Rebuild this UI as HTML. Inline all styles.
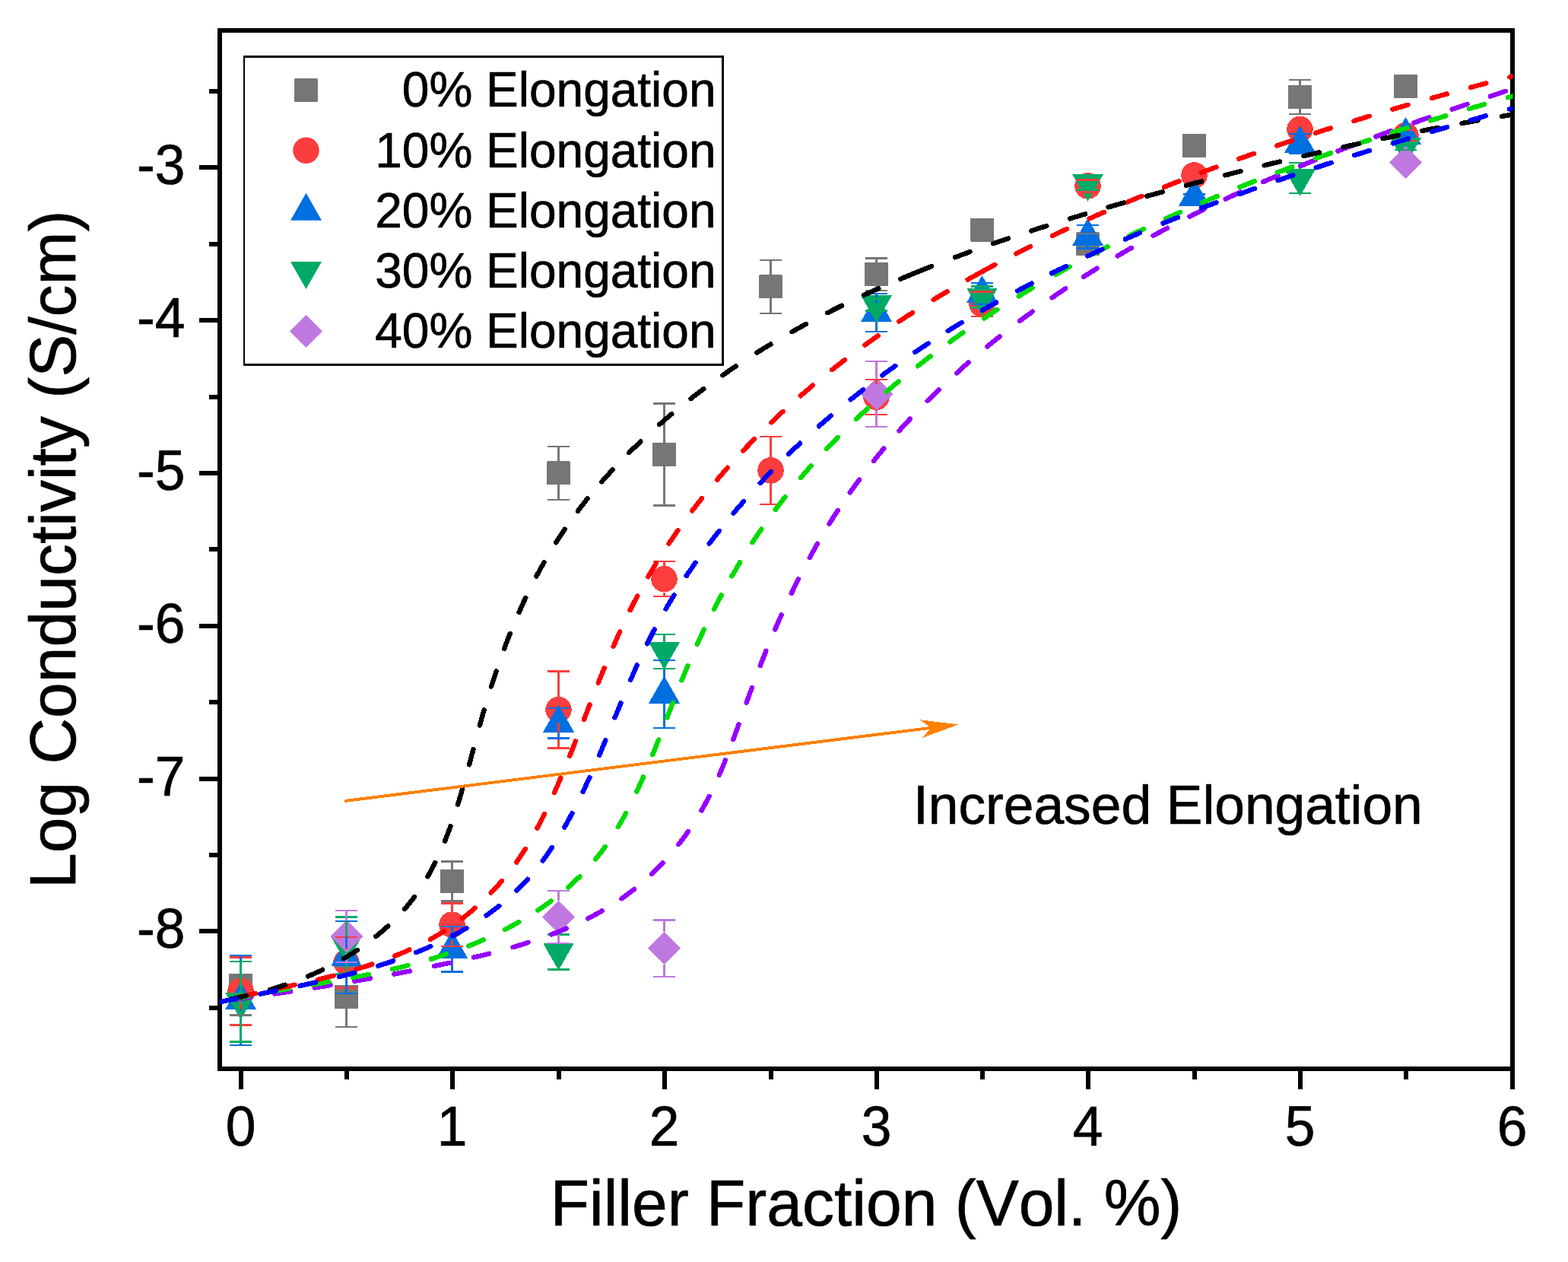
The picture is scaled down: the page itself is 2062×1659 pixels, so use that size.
<!DOCTYPE html>
<html lang="en"><head><meta charset="utf-8"><title>Log Conductivity vs Filler Fraction</title>
<style>html,body{margin:0;padding:0;background:#fff;overflow:hidden}svg{display:block}text{font-family:"Liberation Sans",sans-serif;fill:#000;font-kerning:none;stroke:#000;stroke-width:0.7px;stroke-linejoin:round}</style>
</head><body>
<svg width="2062" height="1659" viewBox="0 0 2062 1659">
<rect x="0" y="0" width="2062" height="1659" fill="#fff"/>
<g id="axes" stroke="#000" stroke-width="6" fill="none" shape-rendering="crispEdges">
<rect x="289.0" y="40.0" width="1700.0" height="1365.0"/>
<line x1="262" x2="289.0" y1="1224" y2="1224"/>
<line x1="262" x2="289.0" y1="1024" y2="1024"/>
<line x1="262" x2="289.0" y1="823" y2="823"/>
<line x1="262" x2="289.0" y1="622" y2="622"/>
<line x1="262" x2="289.0" y1="421" y2="421"/>
<line x1="262" x2="289.0" y1="220" y2="220"/>
<line x1="275" x2="289.0" y1="1325" y2="1325"/>
<line x1="275" x2="289.0" y1="1124" y2="1124"/>
<line x1="275" x2="289.0" y1="923" y2="923"/>
<line x1="275" x2="289.0" y1="722" y2="722"/>
<line x1="275" x2="289.0" y1="522" y2="522"/>
<line x1="275" x2="289.0" y1="321" y2="321"/>
<line x1="275" x2="289.0" y1="120" y2="120"/>
<line x1="317" x2="317" y1="1405.0" y2="1432"/>
<line x1="595" x2="595" y1="1405.0" y2="1432"/>
<line x1="874" x2="874" y1="1405.0" y2="1432"/>
<line x1="1153" x2="1153" y1="1405.0" y2="1432"/>
<line x1="1431" x2="1431" y1="1405.0" y2="1432"/>
<line x1="1710" x2="1710" y1="1405.0" y2="1432"/>
<line x1="1989" x2="1989" y1="1405.0" y2="1432"/>
<line x1="456" x2="456" y1="1405.0" y2="1419"/>
<line x1="735" x2="735" y1="1405.0" y2="1419"/>
<line x1="1014" x2="1014" y1="1405.0" y2="1419"/>
<line x1="1292" x2="1292" y1="1405.0" y2="1419"/>
<line x1="1571" x2="1571" y1="1405.0" y2="1419"/>
<line x1="1849" x2="1849" y1="1405.0" y2="1419"/>
</g>
<g id="ticklabels" font-size="71.3">
<text transform="translate(243.3,1246.3) scale(1.0,1.03)" font-size="71.3" text-anchor="end">-8</text>
<text transform="translate(243.3,1046.3) scale(1.0,1.03)" font-size="71.3" text-anchor="end">-7</text>
<text transform="translate(243.3,845.3) scale(1.0,1.03)" font-size="71.3" text-anchor="end">-6</text>
<text transform="translate(243.3,644.3) scale(1.0,1.03)" font-size="71.3" text-anchor="end">-5</text>
<text transform="translate(243.3,443.3) scale(1.0,1.03)" font-size="71.3" text-anchor="end">-4</text>
<text transform="translate(243.3,242.3) scale(1.0,1.03)" font-size="71.3" text-anchor="end">-3</text>
<text transform="translate(316.5,1506.2) scale(1.0,1.03)" font-size="71.3" text-anchor="middle">0</text>
<text transform="translate(594.5,1506.2) scale(1.0,1.03)" font-size="71.3" text-anchor="middle">1</text>
<text transform="translate(873.5,1506.2) scale(1.0,1.03)" font-size="71.3" text-anchor="middle">2</text>
<text transform="translate(1152.5,1506.2) scale(1.0,1.03)" font-size="71.3" text-anchor="middle">3</text>
<text transform="translate(1430.5,1506.2) scale(1.0,1.03)" font-size="71.3" text-anchor="middle">4</text>
<text transform="translate(1709.5,1506.2) scale(1.0,1.03)" font-size="71.3" text-anchor="middle">5</text>
<text transform="translate(1988.5,1506.2) scale(1.0,1.03)" font-size="71.3" text-anchor="middle">6</text>
</g>
<text transform="translate(1139.0,1611.0) scale(1.0,1.02)" font-size="84.0" text-anchor="middle">Filler Fraction (Vol. %)</text>
<text transform="translate(99.3,722.3) rotate(-90) scale(1,1.02)" font-size="84.0" text-anchor="middle">Log Conductivity (S/cm)</text>
<clipPath id="clip"><rect x="289" y="40" width="1700.5" height="1365"/></clipPath>
<g id="markers" shape-rendering="crispEdges">
<g class="gray">
<rect x="301.0" y="1280.0" width="31" height="31" rx="1.5" fill="#767676"/>
<rect x="440.0" y="1295.0" width="31" height="31" rx="1.5" fill="#767676"/>
<rect x="579.0" y="1143.1" width="31" height="31" rx="1.5" fill="#767676"/>
<rect x="719.0" y="606.3" width="31" height="31" rx="1.5" fill="#767676"/>
<rect x="858.0" y="582.0" width="31" height="31" rx="1.5" fill="#767676"/>
<rect x="998.0" y="361.3" width="31" height="31" rx="1.5" fill="#767676"/>
<rect x="1137.0" y="345.1" width="31" height="31" rx="1.5" fill="#767676"/>
<rect x="1276.0" y="286.8" width="31" height="31" rx="1.5" fill="#767676"/>
<rect x="1415.0" y="305.2" width="31" height="31" rx="1.5" fill="#767676"/>
<rect x="1555.0" y="176.0" width="31" height="31" rx="1.5" fill="#767676"/>
<rect x="1694.0" y="112.1" width="31" height="31" rx="1.5" fill="#767676"/>
<rect x="1833.0" y="97.9" width="31" height="31" rx="1.5" fill="#767676"/>
</g>
<g class="red">
<circle cx="316.5" cy="1302.8" r="17.25" fill="#FC3D3D"/>
<circle cx="455.5" cy="1265.0" r="17.25" fill="#FC3D3D"/>
<circle cx="594.5" cy="1215.6" r="17.25" fill="#FC3D3D"/>
<circle cx="734.5" cy="933.0" r="17.25" fill="#FC3D3D"/>
<circle cx="873.5" cy="761.2" r="17.25" fill="#FC3D3D"/>
<circle cx="1013.5" cy="618.4" r="17.25" fill="#FC3D3D"/>
<circle cx="1152.5" cy="522.0" r="17.25" fill="#FC3D3D"/>
<circle cx="1291.5" cy="399.7" r="17.25" fill="#FC3D3D"/>
<circle cx="1430.5" cy="244.4" r="17.25" fill="#FC3D3D"/>
<circle cx="1570.5" cy="230.4" r="17.25" fill="#FC3D3D"/>
<circle cx="1709.5" cy="169.9" r="17.25" fill="#FC3D3D"/>
<circle cx="1848.5" cy="178.0" r="17.25" fill="#FC3D3D"/>
</g>
<g class="blue">
<path d="M316.5 1291.0L337.0 1327.0L296.0 1327.0Z" fill="#006FE0"/>
<path d="M455.5 1234.4L476.0 1270.4L435.0 1270.4Z" fill="#006FE0"/>
<path d="M594.5 1223.6L615.0 1259.6L574.0 1259.6Z" fill="#006FE0"/>
<path d="M734.5 926.5L755.0 962.5L714.0 962.5Z" fill="#006FE0"/>
<path d="M873.5 888.5L894.0 924.5L853.0 924.5Z" fill="#006FE0"/>
<path d="M1152.5 387.0L1173.0 423.0L1132.0 423.0Z" fill="#006FE0"/>
<path d="M1291.5 362.0L1312.0 398.0L1271.0 398.0Z" fill="#006FE0"/>
<path d="M1430.5 287.0L1451.0 323.0L1410.0 323.0Z" fill="#006FE0"/>
<path d="M1570.5 234.8L1591.0 270.8L1550.0 270.8Z" fill="#006FE0"/>
<path d="M1709.5 164.8L1730.0 200.8L1689.0 200.8Z" fill="#006FE0"/>
<path d="M1848.5 153.9L1869.0 189.9L1828.0 189.9Z" fill="#006FE0"/>
</g>
<g class="green">
<path d="M316.5 1340.7L337.0 1304.7L296.0 1304.7Z" fill="#00AA66"/>
<path d="M455.5 1267.0L476.0 1231.0L435.0 1231.0Z" fill="#00AA66"/>
<path d="M734.5 1275.6L755.0 1239.6L714.0 1239.6Z" fill="#00AA66"/>
<path d="M873.5 880.2L894.0 844.2L853.0 844.2Z" fill="#00AA66"/>
<path d="M1152.5 424.3L1173.0 388.3L1132.0 388.3Z" fill="#00AA66"/>
<path d="M1291.5 414.5L1312.0 378.5L1271.0 378.5Z" fill="#00AA66"/>
<path d="M1430.5 265.0L1451.0 229.0L1410.0 229.0Z" fill="#00AA66"/>
<path d="M1709.5 258.2L1730.0 222.2L1689.0 222.2Z" fill="#00AA66"/>
<path d="M1848.5 217.0L1869.0 181.0L1828.0 181.0Z" fill="#00AA66"/>
</g>
<g class="purple">
<path d="M455.5 1209.5L477.0 1231.0L455.5 1252.5L434.0 1231.0Z" fill="#BF78E0"/>
<path d="M734.5 1183.9L756.0 1205.4L734.5 1226.9L713.0 1205.4Z" fill="#BF78E0"/>
<path d="M873.5 1225.0L895.0 1246.5L873.5 1268.0L852.0 1246.5Z" fill="#BF78E0"/>
<path d="M1152.5 496.5L1174.0 518.0L1152.5 539.5L1131.0 518.0Z" fill="#BF78E0"/>
<path d="M1848.5 192.0L1870.0 213.5L1848.5 235.0L1827.0 213.5Z" fill="#BF78E0"/>
</g>
</g>
<g id="errorbars" fill="none" stroke-width="2.4" shape-rendering="crispEdges">
<g stroke="#767676">
<path d="M302.0 1256.4H331.0M302.0 1334.6H331.0M316.5 1256.4V1280.0M316.5 1311.0V1334.6"/>
<path d="M441.0 1270.9H470.0M441.0 1350.1H470.0M455.5 1270.9V1295.0M455.5 1326.0V1350.1"/>
<path d="M580.0 1132.6H609.0M580.0 1184.6H609.0M594.5 1132.6V1143.1M594.5 1174.1V1184.6"/>
<path d="M720.0 586.8H749.0M720.0 656.8H749.0M734.5 586.8V606.3M734.5 637.3V656.8"/>
<path d="M859.0 530.5H888.0M859.0 664.5H888.0M873.5 530.5V582.0M873.5 613.0V664.5"/>
<path d="M999.0 341.8H1028.0M999.0 411.8H1028.0M1013.5 341.8V361.3M1013.5 392.3V411.8"/>
<path d="M1138.0 339.4H1167.0M1138.0 381.8H1167.0M1152.5 339.4V345.1M1152.5 376.1V381.8"/>
<path d="M1416.0 307.0H1445.0M1416.0 334.4H1445.0"/>
<path d="M1695.0 105.1H1724.0M1695.0 150.1H1724.0M1709.5 105.1V112.1M1709.5 143.1V150.1"/>
</g>
<g stroke="#FC3D3D">
<path d="M302.0 1258.3H331.0M302.0 1347.3H331.0M316.5 1258.3V1285.5M316.5 1320.0V1347.3"/>
<path d="M441.0 1231.7H470.0M441.0 1298.3H470.0M455.5 1231.7V1247.8M455.5 1282.2V1298.3"/>
<path d="M580.0 1187.4H609.0M580.0 1243.8H609.0M594.5 1187.4V1198.3M594.5 1232.8V1243.8"/>
<path d="M720.0 882.4H749.0M720.0 983.6H749.0M734.5 882.4V915.8M734.5 950.2V983.6"/>
<path d="M859.0 738.2H888.0M859.0 784.2H888.0M873.5 738.2V744.0M873.5 778.5V784.2"/>
<path d="M999.0 574.1H1028.0M999.0 662.7H1028.0M1013.5 574.1V601.1M1013.5 635.6V662.7"/>
<path d="M1138.0 499.0H1167.0M1138.0 545.0H1167.0M1152.5 499.0V504.8M1152.5 539.2V545.0"/>
<path d="M1277.0 383.5H1306.0M1277.0 415.9H1306.0"/>
<path d="M1416.0 236.4H1445.0M1416.0 252.4H1445.0"/>
<path d="M1834.0 171.0H1863.0M1834.0 185.0H1863.0"/>
</g>
<g stroke="#006FE0">
<path d="M302.0 1256.0H331.0M302.0 1374.0H331.0M316.5 1256.0V1303.0M316.5 1327.0V1374.0"/>
<path d="M441.0 1210.8H470.0M441.0 1306.0H470.0M455.5 1210.8V1246.4M455.5 1270.4V1306.0"/>
<path d="M580.0 1217.9H609.0M580.0 1277.3H609.0M594.5 1217.9V1235.6M594.5 1259.6V1277.3"/>
<path d="M720.0 930.7H749.0M720.0 970.3H749.0M734.5 930.7V938.5M734.5 962.5V970.3"/>
<path d="M859.0 868.0H888.0M859.0 957.0H888.0M873.5 868.0V900.5M873.5 924.5V957.0"/>
<path d="M1138.0 385.8H1167.0M1138.0 436.2H1167.0M1152.5 385.8V399.0M1152.5 423.0V436.2"/>
<path d="M1277.0 372.0H1306.0M1277.0 400.0H1306.0M1291.5 372.0V374.0M1291.5 398.0V400.0"/>
<path d="M1416.0 295.7H1445.0M1416.0 326.3H1445.0M1430.5 295.7V299.0M1430.5 323.0V326.3"/>
<path d="M1556.0 255.3H1585.0M1556.0 262.3H1585.0"/>
<path d="M1695.0 176.2H1724.0M1695.0 201.4H1724.0M1709.5 176.2V176.8M1709.5 200.8V201.4"/>
</g>
<g stroke="#00AA66">
<path d="M302.0 1263.9H331.0M302.0 1369.5H331.0M316.5 1263.9V1304.7M316.5 1328.7V1369.5"/>
<path d="M441.0 1205.6H470.0M441.0 1280.4H470.0M455.5 1205.6V1231.0M455.5 1255.0V1280.4"/>
<path d="M720.0 1228.6H749.0M720.0 1274.6H749.0M734.5 1228.6V1239.6M734.5 1263.6V1274.6"/>
<path d="M859.0 833.7H888.0M859.0 878.7H888.0M873.5 833.7V844.2M873.5 868.2V878.7"/>
<path d="M1138.0 392.3H1167.0M1138.0 408.3H1167.0"/>
<path d="M1277.0 376.5H1306.0M1277.0 404.5H1306.0M1291.5 376.5V378.5M1291.5 402.5V404.5"/>
<path d="M1416.0 232.6H1445.0M1416.0 249.4H1445.0"/>
<path d="M1695.0 214.2H1724.0M1695.0 254.2H1724.0M1709.5 214.2V222.2M1709.5 246.2V254.2"/>
<path d="M1834.0 189.0H1863.0M1834.0 197.0H1863.0"/>
</g>
<g stroke="#BF78E0">
<path d="M441.0 1196.8H470.0M441.0 1265.2H470.0M455.5 1196.8V1209.5M455.5 1252.5V1265.2"/>
<path d="M720.0 1170.8H749.0M720.0 1240.0H749.0M734.5 1170.8V1183.9M734.5 1226.9V1240.0"/>
<path d="M859.0 1209.3H888.0M859.0 1283.7H888.0M873.5 1209.3V1225.0M873.5 1268.0V1283.7"/>
<path d="M1138.0 475.2H1167.0M1138.0 560.8H1167.0M1152.5 475.2V496.5M1152.5 539.5V560.8"/>
</g>
</g>
<g id="curves" fill="none" stroke-width="6.4" stroke-linecap="round" stroke-linejoin="round" clip-path="url(#clip)" shape-rendering="crispEdges">
<path stroke="#9600FF" d="M308.8 1313.9L312.3 1313.4L315.7 1312.9L319.2 1312.4L322.7 1312.0L326.1 1311.5L329.6 1311.0M361.4 1306.4L364.8 1305.9L368.3 1305.4L371.8 1304.9L375.2 1304.4L378.7 1303.8L382.2 1303.3M413.7 1298.5L417.1 1297.9L420.6 1297.4L424.0 1296.8L427.5 1296.3L430.9 1295.7L434.4 1295.1M466.2 1289.8L469.6 1289.2L473.1 1288.6L476.5 1288.0L480.0 1287.4L483.4 1286.8L486.9 1286.2M518.4 1280.5L521.8 1279.8L525.3 1279.2L528.7 1278.5L532.1 1277.8L535.6 1277.2L539.0 1276.5M570.8 1270.1L574.2 1269.4L577.6 1268.7L581.0 1268.0L584.5 1267.2L587.9 1266.5L591.3 1265.8M622.9 1258.6L626.3 1257.8L629.7 1257.0L633.1 1256.2L636.5 1255.4L639.9 1254.5L643.3 1253.7M674.5 1245.2L677.9 1244.2L681.2 1243.2L684.6 1242.2L687.9 1241.1L691.3 1240.1L694.6 1239.0M725.2 1228.4L728.4 1227.2L731.7 1225.9L735.0 1224.6L738.2 1223.3L741.4 1222.0L744.7 1220.6M773.1 1207.5L776.2 1205.9L779.3 1204.3L782.4 1202.6L785.4 1201.0L788.5 1199.3L791.5 1197.5M817.3 1181.3L820.2 1179.3L823.0 1177.3L825.8 1175.2L828.6 1173.1L831.4 1171.0L834.2 1168.8M856.9 1149.1L859.4 1146.7L861.9 1144.3L864.4 1141.8L866.8 1139.3L869.3 1136.8L871.7 1134.2M892.4 1110.0L894.6 1107.2L896.7 1104.4L898.8 1101.6L900.9 1098.8L902.9 1095.9L904.9 1093.1M922.5 1065.4L924.3 1062.3L926.0 1059.3L927.7 1056.2L929.3 1053.1L930.9 1050.0L932.6 1046.9M945.8 1018.7L947.2 1015.5L948.6 1012.3L949.9 1009.1L951.3 1005.8L952.6 1002.6L953.9 999.3M964.3 972.1L965.5 968.8L966.7 965.5L967.9 962.2L969.1 958.9L970.3 955.6L971.5 952.4M981.7 923.6L982.9 920.3L984.1 917.0L985.3 913.7L986.5 910.4L987.7 907.1L988.9 903.8M999.7 875.2L1001.0 872.0L1002.2 868.7L1003.5 865.5L1004.8 862.2L1006.1 859.0L1007.4 855.7M1019.2 827.5L1020.6 824.3L1022.0 821.1L1023.4 817.9L1024.8 814.7L1026.2 811.5L1027.6 808.3M1040.7 780.2L1042.2 777.1L1043.7 773.9L1045.3 770.8L1046.8 767.6L1048.4 764.5L1049.9 761.4M1064.7 733.2L1066.4 730.1L1068.1 727.0L1069.8 724.0L1071.5 720.9L1073.2 717.9L1074.9 714.8M1090.5 688.8L1092.3 685.8L1094.2 682.8L1096.0 679.9L1097.9 676.9L1099.8 674.0L1101.7 671.1M1117.8 647.5L1119.8 644.6L1121.8 641.8L1123.9 639.0L1125.9 636.1L1128.0 633.3L1130.1 630.5M1149.0 605.9L1151.2 603.2L1153.4 600.4L1155.6 597.7L1157.8 595.0L1160.1 592.3L1162.3 589.6M1182.6 566.2L1184.9 563.6L1187.3 561.0L1189.6 558.4L1192.0 555.8L1194.4 553.2L1196.8 550.7M1219.7 526.9L1222.2 524.4L1224.7 522.0L1227.2 519.5L1229.7 517.1L1232.2 514.6L1234.7 512.2M1258.0 490.5L1260.6 488.1L1263.2 485.8L1265.8 483.4L1268.4 481.1L1271.0 478.8L1273.7 476.5M1298.3 455.7L1301.0 453.4L1303.7 451.2L1306.4 449.0L1309.1 446.8L1311.9 444.6L1314.6 442.5M1341.0 422.0L1343.8 419.9L1346.6 417.8L1349.4 415.8L1352.3 413.7L1355.1 411.6L1357.9 409.6M1383.7 391.3L1386.6 389.3L1389.5 387.3L1392.4 385.4L1395.3 383.4L1398.2 381.5L1401.1 379.5M1424.9 364.0L1427.8 362.1L1430.8 360.2L1433.7 358.3L1436.7 356.5L1439.7 354.6L1442.6 352.8M1469.7 336.4L1472.7 334.6L1475.7 332.9L1478.8 331.1L1481.8 329.3L1484.8 327.6L1487.9 325.8M1516.6 309.8L1519.7 308.1L1522.8 306.4L1525.9 304.8L1529.0 303.1L1532.0 301.5L1535.1 299.8M1564.4 284.7L1567.5 283.1L1570.6 281.5L1573.8 280.0L1576.9 278.4L1580.0 276.9L1583.2 275.3M1611.8 261.6L1615.0 260.1L1618.1 258.6L1621.3 257.1L1624.5 255.6L1627.7 254.2L1630.8 252.7M1661.1 239.1L1664.3 237.7L1667.5 236.3L1670.7 234.9L1673.9 233.6L1677.2 232.2L1680.4 230.8M1710.3 218.2L1713.5 216.9L1716.7 215.6L1720.0 214.2L1723.2 212.9L1726.5 211.6L1729.7 210.3M1759.5 198.5L1762.7 197.2L1766.0 196.0L1769.3 194.7L1772.5 193.4L1775.8 192.2L1779.1 190.9M1809.5 179.5L1812.7 178.3L1816.0 177.0L1819.3 175.8L1822.6 174.6L1825.9 173.4L1829.2 172.2M1859.6 161.3L1862.9 160.1L1866.2 158.9L1869.5 157.7L1872.8 156.6L1876.1 155.4L1879.4 154.3M1909.6 143.7L1912.9 142.6L1916.2 141.5L1919.5 140.3L1922.8 139.2L1926.1 138.1L1929.4 136.9M1959.8 126.6L1963.2 125.5L1966.5 124.4L1969.8 123.3L1973.1 122.1L1976.4 121.0L1979.8 119.9"/>
<path stroke="#00DC00" d="M307.5 1313.4L310.9 1312.7L314.3 1312.0L317.7 1311.3L321.2 1310.6L324.6 1309.9L328.0 1309.2M359.6 1303.3L363.0 1302.7L366.5 1302.1L369.9 1301.5L373.4 1300.9L376.8 1300.3L380.3 1299.7M411.9 1294.3L415.4 1293.7L418.8 1293.1L422.3 1292.5L425.7 1291.9L429.2 1291.3L432.6 1290.7M464.2 1285.0L467.6 1284.3L471.1 1283.7L474.5 1283.0L477.9 1282.3L481.4 1281.6L484.8 1280.9M516.0 1274.1L519.4 1273.3L522.8 1272.5L526.2 1271.7L529.6 1270.9L533.0 1270.0L536.4 1269.2M566.8 1260.7L570.1 1259.7L573.5 1258.7L576.8 1257.6L580.1 1256.5L583.5 1255.4L586.8 1254.3M616.2 1243.6L619.5 1242.3L622.7 1241.0L626.0 1239.6L629.2 1238.3L632.4 1236.9L635.6 1235.5M663.9 1222.1L667.0 1220.5L670.1 1218.8L673.2 1217.2L676.3 1215.5L679.3 1213.8L682.4 1212.1M707.5 1196.6L710.5 1194.6L713.3 1192.6L716.2 1190.6L719.1 1188.6L721.9 1186.6L724.7 1184.5M747.1 1166.5L749.7 1164.1L752.3 1161.8L754.9 1159.4L757.4 1157.0L759.9 1154.6L762.4 1152.2M783.1 1129.5L785.3 1126.8L787.5 1124.1L789.7 1121.3L791.8 1118.5L793.9 1115.7L795.9 1112.9M812.8 1087.2L814.5 1084.2L816.3 1081.2L818.0 1078.1L819.8 1075.1L821.4 1072.0L823.1 1068.9M837.4 1040.5L838.8 1037.3L840.3 1034.1L841.8 1030.9L843.2 1027.7L844.6 1024.5L846.0 1021.3M858.3 992.0L859.6 988.7L860.9 985.5L862.2 982.2L863.5 979.0L864.7 975.7L866.0 972.5M877.3 943.3L878.6 940.1L879.8 936.8L881.1 933.5L882.4 930.3L883.6 927.0L884.9 923.7M896.5 894.4L897.8 891.1L899.2 887.9L900.5 884.7L901.8 881.4L903.2 878.2L904.6 875.0M916.9 846.7L918.4 843.5L919.9 840.3L921.3 837.1L922.8 834.0L924.3 830.8L925.8 827.6M938.9 801.0L940.5 797.9L942.1 794.8L943.7 791.7L945.3 788.6L947.0 785.5L948.6 782.4M962.4 757.4L964.2 754.4L965.9 751.4L967.7 748.4L969.5 745.3L971.3 742.3L973.1 739.3M989.5 713.1L991.5 710.2L993.4 707.3L995.3 704.4L997.3 701.5L999.3 698.6L1001.3 695.7M1019.7 670.0L1021.8 667.2L1023.9 664.4L1026.0 661.6L1028.2 658.8L1030.3 656.1L1032.5 653.3M1053.0 628.1L1055.3 625.4L1057.5 622.8L1059.8 620.1L1062.1 617.5L1064.4 614.9L1066.7 612.2M1087.1 590.0L1089.5 587.5L1091.9 584.9L1094.3 582.4L1096.7 579.9L1099.2 577.4L1101.6 574.9M1125.9 551.0L1128.4 548.6L1131.0 546.2L1133.5 543.8L1136.1 541.5L1138.7 539.1L1141.3 536.7M1165.8 514.9L1168.5 512.6L1171.2 510.4L1173.8 508.1L1176.5 505.8L1179.2 503.6L1181.9 501.4M1206.9 481.2L1209.7 479.0L1212.4 476.9L1215.2 474.7L1218.0 472.6L1220.7 470.5L1223.5 468.3M1249.2 449.4L1252.1 447.3L1254.9 445.3L1257.8 443.3L1260.6 441.2L1263.5 439.2L1266.4 437.2M1294.0 418.5L1296.9 416.6L1299.8 414.7L1302.7 412.7L1305.7 410.8L1308.6 408.9L1311.5 407.0M1339.8 389.4L1342.8 387.6L1345.7 385.7L1348.7 383.9L1351.7 382.1L1354.7 380.3L1357.8 378.6M1388.3 360.9L1391.3 359.2L1394.4 357.5L1397.4 355.8L1400.5 354.1L1403.5 352.4L1406.6 350.7M1438.0 333.9L1441.1 332.3L1444.2 330.7L1447.3 329.0L1450.4 327.4L1453.5 325.8L1456.6 324.3M1485.1 310.1L1488.3 308.5L1491.4 307.0L1494.6 305.5L1497.7 304.0L1500.9 302.5L1504.1 301.0M1532.9 287.5L1536.1 286.1L1539.3 284.6L1542.5 283.2L1545.7 281.8L1548.9 280.3L1552.1 278.9M1581.3 266.2L1584.5 264.8L1587.7 263.5L1590.9 262.1L1594.2 260.8L1597.4 259.4L1600.6 258.1M1630.3 245.9L1633.5 244.7L1636.8 243.4L1640.0 242.1L1643.3 240.8L1646.5 239.5L1649.8 238.2M1679.7 226.7L1683.0 225.5L1686.3 224.3L1689.5 223.1L1692.8 221.8L1696.1 220.6L1699.4 219.4M1730.2 208.2L1733.5 207.1L1736.8 205.9L1740.1 204.7L1743.4 203.6L1746.7 202.4L1750.1 201.3M1780.8 190.7L1784.1 189.6L1787.4 188.5L1790.7 187.4L1794.0 186.3L1797.4 185.2L1800.7 184.1M1830.7 174.3L1834.0 173.2L1837.4 172.2L1840.7 171.1L1844.0 170.0L1847.4 169.0L1850.7 167.9M1881.1 158.4L1884.5 157.4L1887.8 156.4L1891.2 155.4L1894.5 154.3L1897.8 153.3L1901.2 152.3M1931.9 143.1L1935.2 142.1L1938.6 141.1L1941.9 140.1L1945.3 139.1L1948.6 138.2L1952.0 137.2M1982.8 128.2L1985.9 127.4L1988.9 126.5"/>
<path stroke="#FF0000" d="M315.4 1310.5L318.8 1309.8L322.2 1309.0L325.6 1308.2L329.0 1307.5L332.5 1306.7L335.9 1306.0M367.3 1299.2L370.7 1298.4L374.1 1297.7L377.5 1296.9L380.9 1296.2L384.4 1295.4L387.8 1294.7M418.1 1287.7L421.5 1286.9L424.9 1286.0L428.3 1285.2L431.7 1284.3L435.1 1283.5L438.5 1282.6M469.2 1274.0L472.6 1273.0L475.9 1271.9L479.3 1270.9L482.6 1269.8L485.9 1268.7L489.3 1267.6M519.1 1256.7L522.3 1255.4L525.6 1254.1L528.8 1252.7L532.0 1251.4L535.2 1250.0L538.4 1248.5M565.9 1234.8L569.0 1233.1L572.0 1231.3L575.0 1229.6L578.0 1227.8L581.0 1225.9L584.0 1224.1M608.3 1207.1L611.1 1204.9L613.9 1202.7L616.6 1200.5L619.3 1198.3L622.0 1196.1L624.6 1193.8M645.7 1173.7L648.2 1171.2L650.5 1168.6L652.9 1166.1L655.3 1163.5L657.6 1160.8L659.9 1158.2M679.1 1133.5L681.1 1130.6L683.1 1127.7L685.1 1124.8L687.0 1121.9L688.9 1118.9L690.8 1116.0M706.4 1088.8L708.0 1085.7L709.7 1082.6L711.3 1079.5L712.8 1076.4L714.4 1073.2L715.9 1070.1M729.0 1042.0L730.4 1038.8L731.8 1035.6L733.2 1032.4L734.5 1029.2L735.9 1025.9L737.3 1022.7M749.2 993.8L750.5 990.5L751.8 987.3L753.1 984.0L754.4 980.7L755.7 977.5L756.9 974.2M768.0 945.9L769.2 942.6L770.5 939.3L771.8 936.1L773.0 932.8L774.3 929.6L775.6 926.3M786.8 897.6L788.1 894.4L789.4 891.1L790.7 887.9L792.0 884.6L793.4 881.4L794.7 878.1M806.6 849.8L808.0 846.6L809.4 843.4L810.8 840.2L812.2 837.0L813.7 833.8L815.1 830.6M828.6 802.2L830.2 799.1L831.8 795.9L833.4 792.8L835.0 789.7L836.6 786.6L838.3 783.5M852.3 758.2L854.1 755.2L855.9 752.2L857.7 749.2L859.5 746.2L861.3 743.2L863.1 740.2M879.6 714.5L881.6 711.6L883.6 708.7L885.5 705.8L887.5 702.9L889.5 700.0L891.5 697.1M910.3 671.4L912.4 668.7L914.5 665.9L916.7 663.1L918.8 660.4L921.0 657.6L923.2 654.9M943.0 630.7L945.3 628.0L947.6 625.4L949.9 622.7L952.2 620.1L954.5 617.5L956.8 614.8M977.4 592.4L979.8 589.8L982.2 587.3L984.7 584.8L987.1 582.3L989.5 579.8L992.0 577.3M1014.3 555.3L1016.8 552.9L1019.4 550.5L1021.9 548.1L1024.5 545.7L1027.0 543.3L1029.6 541.0M1052.8 520.3L1055.5 518.0L1058.1 515.7L1060.8 513.4L1063.5 511.2L1066.1 508.9L1068.8 506.6M1094.3 486.0L1097.1 483.8L1099.8 481.6L1102.6 479.5L1105.3 477.4L1108.1 475.2L1110.9 473.1M1137.4 453.5L1140.3 451.5L1143.1 449.4L1146.0 447.4L1148.8 445.4L1151.7 443.4L1154.6 441.4M1182.4 422.5L1185.3 420.6L1188.3 418.7L1191.2 416.8L1194.1 414.9L1197.1 413.0L1200.0 411.1M1227.5 394.0L1230.5 392.2L1233.5 390.4L1236.5 388.6L1239.5 386.8L1242.5 385.0L1245.5 383.2M1336.1 333.5L1339.2 331.9L1342.3 330.4L1345.5 328.8L1348.6 327.2L1351.7 325.6L1354.8 324.1M1383.8 310.0L1386.9 308.5L1390.1 307.0L1393.3 305.5L1396.4 304.0L1399.6 302.5L1402.8 301.0M1432.6 287.4L1435.8 286.0L1439.0 284.6L1442.2 283.1L1445.4 281.7L1448.6 280.3L1451.8 278.9M1482.1 265.9L1485.3 264.5L1488.6 263.2L1491.8 261.8L1495.0 260.5L1498.3 259.1L1501.5 257.8M1531.0 245.9L1534.2 244.6L1537.5 243.3L1540.7 242.0L1544.0 240.7L1547.2 239.4L1550.5 238.2M1579.7 227.0L1583.0 225.7L1586.3 224.5L1589.6 223.3L1592.8 222.1L1596.1 220.9L1599.4 219.7M1629.4 208.8L1632.7 207.6L1636.0 206.5L1639.3 205.3L1642.6 204.1L1645.9 203.0L1649.2 201.8M1679.3 191.5L1682.6 190.3L1686.0 189.2L1689.3 188.1L1692.6 187.0L1695.9 185.9L1699.2 184.8M1729.8 174.8L1733.1 173.8L1736.5 172.7L1739.8 171.6L1743.1 170.6L1746.5 169.5L1749.8 168.5M1780.6 158.9L1783.9 157.9L1787.3 156.9L1790.6 155.9L1794.0 154.8L1797.3 153.8L1800.7 152.8M1831.4 143.7L1834.8 142.7L1838.2 141.7L1841.5 140.8L1844.9 139.8L1848.2 138.8L1851.6 137.8M1882.8 129.0L1886.2 128.0L1889.5 127.1L1892.9 126.2L1896.3 125.2L1899.7 124.3L1903.0 123.4M1934.0 114.9L1937.4 114.0L1940.8 113.1L1944.2 112.2L1947.5 111.3L1950.9 110.4L1954.3 109.5M1985.3 101.3L1988.9 100.3M1272.6 367.6L1275.8 365.8L1279.0 364.0L1282.3 362.2L1285.5 360.4L1288.7 358.6L1292.0 356.8L1295.2 355.1L1298.5 353.3L1301.8 351.5L1305.0 349.8L1308.3 348.0"/>
<path stroke="#000000" d="M303.5 1313.5L306.9 1312.8L310.3 1312.1L313.7 1311.4L317.2 1310.6L320.6 1309.9L324.0 1309.1M355.0 1301.0L358.4 1300.0L361.7 1299.0L365.1 1297.9L368.4 1296.9L371.7 1295.8L375.1 1294.7M405.1 1283.4L408.3 1282.0L411.5 1280.7L414.7 1279.2L417.9 1277.8L421.1 1276.3L424.2 1274.8M452.1 1260.1L455.1 1258.3L458.1 1256.5L461.1 1254.6L464.0 1252.8L467.0 1250.9L469.9 1249.0M494.4 1231.0L497.1 1228.8L499.8 1226.6L502.5 1224.3L505.1 1222.0L507.7 1219.7L510.3 1217.4M531.9 1195.2L534.2 1192.5L536.4 1189.9L538.7 1187.1L540.8 1184.4L543.0 1181.6L545.1 1178.8M562.4 1152.3L564.1 1149.3L565.8 1146.2L567.5 1143.2L569.1 1140.1L570.7 1137.0L572.3 1133.8M585.0 1105.7L586.3 1102.5L587.5 1099.2L588.8 1095.9L590.1 1092.7L591.3 1089.4L592.5 1086.1M602.1 1057.5L603.1 1054.1L604.1 1050.8L605.1 1047.4L606.1 1044.1L607.1 1040.7L608.1 1037.4M617.0 1005.3L617.9 1002.0L618.8 998.6L619.7 995.2L620.6 991.8L621.5 988.4L622.4 985.0M631.0 953.4L631.9 950.0L632.8 946.6L633.8 943.3L634.7 939.9L635.7 936.5L636.7 933.2M646.0 902.4L647.1 899.0L648.2 895.7L649.3 892.4L650.4 889.0L651.5 885.7L652.6 882.4M663.2 852.6L664.4 849.3L665.6 846.1L666.9 842.8L668.1 839.5L669.4 836.3L670.7 833.0M682.5 805.0L683.9 801.8L685.3 798.6L686.8 795.4L688.2 792.2L689.7 789.0L691.2 785.9M705.4 757.5L707.1 754.4L708.7 751.4L710.4 748.3L712.1 745.2L713.8 742.2L715.5 739.1M731.1 713.2L733.0 710.3L734.9 707.3L736.8 704.4L738.8 701.5L740.7 698.6L742.7 695.7M759.9 671.8L762.0 669.0L764.1 666.3L766.3 663.5L768.5 660.8L770.6 658.0L772.8 655.3M791.4 633.2L793.7 630.6L796.1 628.0L798.4 625.4L800.8 622.8L803.1 620.2L805.5 617.6M827.3 595.1L829.7 592.7L832.2 590.2L834.8 587.8L837.3 585.4L839.8 582.9L842.3 580.5M867.2 558.0L869.9 555.7L872.5 553.4L875.2 551.1L877.8 548.9L880.5 546.6L883.2 544.4M908.4 524.1L911.2 521.9L914.0 519.8L916.8 517.7L919.6 515.6L922.4 513.5L925.2 511.4M950.4 493.2L953.3 491.2L956.1 489.3L959.0 487.3L961.9 485.3L964.8 483.4L967.7 481.4M995.5 463.5L998.4 461.7L1001.4 459.8L1004.4 458.0L1007.4 456.2L1010.4 454.4L1013.4 452.6M1041.5 436.2L1044.6 434.5L1047.6 432.8L1050.7 431.1L1053.8 429.4L1056.8 427.8L1059.9 426.1M1088.3 411.2L1091.5 409.6L1094.6 408.0L1097.7 406.4L1100.9 404.9L1104.0 403.3L1107.1 401.8M1136.3 387.9L1139.4 386.5L1142.6 385.0L1145.8 383.6L1149.0 382.1L1152.2 380.7L1155.4 379.3M1255.9 338.3L1259.2 337.1L1262.4 335.9L1265.7 334.6L1269.0 333.4L1272.3 332.2L1275.6 331.0M1306.1 320.2L1309.4 319.1L1312.7 317.9L1316.0 316.8L1319.4 315.7L1322.7 314.6L1326.0 313.4M1356.3 303.4L1359.6 302.3L1363.0 301.3L1366.3 300.2L1369.6 299.1L1373.0 298.1L1376.3 297.0M1407.0 287.5L1410.3 286.4L1413.7 285.4L1417.0 284.4L1420.4 283.4L1423.7 282.4L1427.1 281.4M1457.6 272.4L1460.9 271.4L1464.3 270.4L1467.6 269.5L1471.0 268.5L1474.4 267.5L1477.7 266.5M1508.4 257.8L1511.8 256.9L1515.2 256.0L1518.5 255.0L1521.9 254.1L1525.3 253.2L1528.7 252.2M1559.8 243.8L1563.2 242.9L1566.5 242.0L1569.9 241.1L1573.3 240.2L1576.7 239.3L1580.1 238.4M1611.0 230.3L1614.4 229.5L1617.8 228.6L1621.2 227.7L1624.6 226.9L1628.0 226.0L1631.4 225.2M1662.7 217.4L1666.1 216.6L1669.5 215.7L1672.9 214.9L1676.3 214.1L1679.7 213.3L1683.1 212.5M1714.6 205.0L1718.0 204.3L1721.4 203.5L1724.8 202.7L1728.2 201.9L1731.6 201.1L1735.0 200.4M1766.5 193.3L1769.9 192.6L1773.3 191.8L1776.7 191.1L1780.2 190.4L1783.6 189.6L1787.0 188.9M1818.6 182.2L1822.0 181.5L1825.4 180.8L1828.8 180.1L1832.3 179.4L1835.7 178.7L1839.1 178.0M1870.3 171.9L1873.8 171.2L1877.2 170.5L1880.6 169.9L1884.1 169.2L1887.5 168.6L1891.0 167.9M1922.6 162.0L1926.0 161.4L1929.5 160.8L1932.9 160.2L1936.4 159.6L1939.8 159.0L1943.3 158.3M1974.9 152.9L1978.5 152.3L1982.1 151.7L1985.8 151.1L1989.4 150.4M1184.3 366.7L1187.7 365.3L1191.1 363.9L1194.5 362.5L1197.9 361.1L1201.3 359.6L1204.7 358.3L1208.1 356.9L1211.5 355.5L1215.0 354.1L1218.4 352.8L1221.8 351.4L1225.2 350.0"/>
<path stroke="#0000FF" d="M290.4 1317.0L293.8 1316.3L297.2 1315.6L300.6 1314.9L304.1 1314.2L307.5 1313.5L310.9 1312.8M342.4 1306.5L345.8 1305.9L349.3 1305.2L352.7 1304.5L356.1 1303.8L359.6 1303.1L363.0 1302.4M394.4 1295.9L397.9 1295.2L401.3 1294.4L404.7 1293.7L408.1 1292.9L411.5 1292.2L415.0 1291.4M446.1 1284.0L449.5 1283.2L452.9 1282.3L456.3 1281.4L459.7 1280.5L463.1 1279.6L466.5 1278.7M497.2 1269.8L500.5 1268.7L503.8 1267.7L507.2 1266.6L510.5 1265.5L513.8 1264.4L517.1 1263.3M546.9 1252.2L550.2 1250.9L553.4 1249.6L556.6 1248.2L559.9 1246.9L563.1 1245.5L566.3 1244.1M595.0 1230.3L598.1 1228.7L601.1 1227.0L604.2 1225.3L607.3 1223.6L610.3 1221.9L613.4 1220.2M639.6 1203.5L642.4 1201.4L645.3 1199.4L648.1 1197.3L650.9 1195.2L653.7 1193.1L656.4 1191.0M679.4 1170.9L681.9 1168.5L684.3 1166.0L686.8 1163.5L689.2 1161.0L691.6 1158.4L693.9 1155.8M713.7 1131.5L715.8 1128.6L717.9 1125.8L719.9 1122.9L721.9 1120.1L723.8 1117.2L725.8 1114.2M742.2 1087.5L744.0 1084.5L745.7 1081.4L747.4 1078.3L749.1 1075.3L750.7 1072.2L752.4 1069.1M766.6 1040.9L768.1 1037.7L769.6 1034.6L771.0 1031.4L772.5 1028.2L774.0 1025.0L775.4 1021.9M788.1 992.7L789.5 989.5L790.9 986.3L792.2 983.0L793.6 979.8L794.9 976.6L796.3 973.3M808.5 943.4L809.9 940.2L811.2 937.0L812.5 933.7L813.9 930.5L815.2 927.3L816.5 924.0M829.3 893.7L830.7 890.5L832.1 887.3L833.5 884.1L834.9 880.9L836.3 877.7L837.8 874.5M851.1 846.2L852.7 843.1L854.2 840.0L855.8 836.8L857.4 833.7L859.0 830.6L860.6 827.5M875.6 800.5L877.4 797.5L879.1 794.5L880.9 791.5L882.7 788.5L884.5 785.5L886.4 782.5M902.7 757.0L904.6 754.1L906.6 751.2L908.6 748.3L910.5 745.4L912.5 742.6L914.5 739.7M932.7 714.7L934.9 711.9L937.0 709.1L939.1 706.3L941.3 703.6L943.4 700.8L945.6 698.0M964.5 674.9L966.7 672.2L969.0 669.5L971.3 666.9L973.6 664.2L975.9 661.6L978.2 658.9M999.7 635.1L1002.1 632.6L1004.5 630.0L1006.9 627.5L1009.3 625.0L1011.8 622.4L1014.2 619.9M1036.9 597.2L1039.4 594.8L1042.0 592.4L1044.5 589.9L1047.0 587.5L1049.6 585.1L1052.1 582.7M1076.9 560.3L1079.5 558.0L1082.2 555.7L1084.8 553.4L1087.5 551.1L1090.1 548.8L1092.8 546.6M1118.6 525.3L1121.3 523.2L1124.0 521.0L1126.8 518.8L1129.5 516.7L1132.3 514.5L1135.1 512.4M1160.3 493.4L1163.1 491.3L1165.9 489.2L1168.8 487.2L1171.6 485.2L1174.4 483.1L1177.3 481.1M1203.4 463.0L1206.3 461.1L1209.2 459.1L1212.1 457.2L1215.1 455.3L1218.0 453.3L1220.9 451.4M1246.7 435.0L1249.7 433.2L1252.6 431.3L1255.6 429.5L1258.6 427.7L1261.6 425.8L1264.6 424.0M1292.0 407.9L1295.0 406.2L1298.0 404.5L1301.1 402.7L1304.1 401.0L1307.2 399.3L1310.2 397.6M1338.2 382.3L1341.3 380.7L1344.4 379.1L1347.5 377.4L1350.6 375.8L1353.7 374.2L1356.8 372.6M1383.0 359.3L1386.1 357.7L1389.3 356.2L1392.4 354.6L1395.6 353.1L1398.7 351.6L1401.9 350.0M1430.4 336.5L1433.6 335.1L1436.7 333.6L1439.9 332.1L1443.1 330.7L1446.3 329.2L1449.5 327.8M1479.8 314.4L1483.0 313.0L1486.2 311.6L1489.5 310.2L1492.7 308.9L1495.9 307.5L1499.1 306.1M1529.6 293.5L1532.9 292.2L1536.1 290.9L1539.3 289.6L1542.6 288.3L1545.8 287.0L1549.1 285.7M1579.8 273.7L1583.1 272.5L1586.4 271.2L1589.6 270.0L1592.9 268.7L1596.2 267.5L1599.5 266.3M1630.0 255.1L1633.3 253.9L1636.6 252.7L1639.9 251.5L1643.2 250.3L1646.5 249.1L1649.8 248.0M1680.5 237.2L1683.8 236.1L1687.1 235.0L1690.4 233.8L1693.8 232.7L1697.1 231.6L1700.4 230.5M1730.7 220.4L1734.1 219.3L1737.4 218.2L1740.7 217.1L1744.0 216.0L1747.4 214.9L1750.7 213.9M1781.1 204.2L1784.4 203.1L1787.8 202.1L1791.1 201.0L1794.5 200.0L1797.8 198.9L1801.1 197.9M1832.0 188.4L1835.3 187.4L1838.7 186.3L1842.0 185.3L1845.4 184.3L1848.7 183.3L1852.1 182.3M1883.0 173.1L1886.4 172.1L1889.7 171.1L1893.1 170.1L1896.4 169.1L1899.8 168.1L1903.1 167.1M1933.8 158.2L1937.1 157.2L1940.5 156.2L1943.8 155.2L1947.2 154.3L1950.6 153.3L1953.9 152.3M1984.8 143.5L1987.2 142.8"/>
</g>
<g id="arrow" shape-rendering="crispEdges">
<line x1="453" y1="1053" x2="1232" y2="955.8" stroke="#FF8000" stroke-width="3.9"/>
<path d="M1260.3 952.4L1210 946.3L1224.2 956.8L1213 969.8Z" fill="#FF8000"/>
</g>
<text transform="translate(1201.0,1083.2) scale(1.0,1.02)" font-size="71.3" text-anchor="start">Increased Elongation</text>
<g id="legend">
<rect x="321" y="74.5" width="629.7" height="404.7" fill="#fff" stroke="#000" stroke-width="2.6" shape-rendering="crispEdges"/>
<rect x="387.0" y="102.9" width="31" height="31" rx="1.5" fill="#767676"/>
<text transform="translate(941.5,140.3) scale(1.0,1.02)" font-size="64.0" text-anchor="end">0% Elongation</text>
<circle cx="402.5" cy="197.7" r="17.25" fill="#FC3D3D"/>
<text transform="translate(941.5,219.6) scale(1.0,1.02)" font-size="64.0" text-anchor="end">10% Elongation</text>
<path d="M402.5 253.7L423.0 289.7L382.0 289.7Z" fill="#006FE0"/>
<text transform="translate(941.5,298.8) scale(1.0,1.02)" font-size="64.0" text-anchor="end">20% Elongation</text>
<path d="M402.5 380.1L423.0 344.1L382.0 344.1Z" fill="#00AA66"/>
<text transform="translate(941.5,378.1) scale(1.0,1.02)" font-size="64.0" text-anchor="end">30% Elongation</text>
<path d="M402.5 413.9L424.0 435.4L402.5 456.9L381.0 435.4Z" fill="#BF78E0"/>
<text transform="translate(941.5,457.3) scale(1.0,1.02)" font-size="64.0" text-anchor="end">40% Elongation</text>
</g>
</svg></body></html>
